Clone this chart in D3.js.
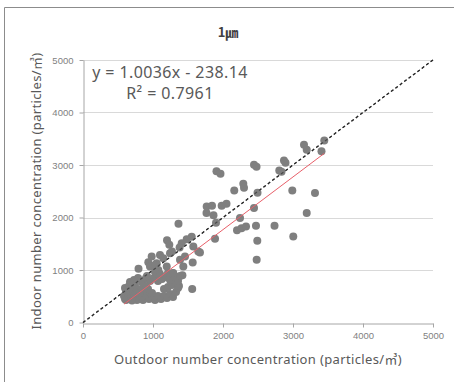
<!DOCTYPE html>
<html>
<head>
<meta charset="utf-8">
<script src="https://cdn.jsdelivr.net/npm/d3@7"></script>
<style>
  html, body { margin: 0; padding: 0; background: #fff; }
  svg { display: block; }
</style>
</head>
<body>
<svg id="chart" width="454" height="382"></svg>
<script>
// Outdoor vs indoor particle number concentration, 1 µm size class
const titleText = "1\u339B";
const xTitle = "Outdoor number concentration (particles/\u33A5)";
const yTitle = "Indoor number concentration (particles/\u33A5)";
const tickValues = [0, 1000, 2000, 3000, 4000, 5000];

// Regression line reported on the chart: y = slope * x + intercept
const slope = 1.0036;
const intercept = -238.14;
const rSquared = 0.7961;

const outdoor = [
  3157, 3196, 3447, 3407, 2871, 2893, 2804, 2836, 2990, 3314,
  3196, 2736, 3004, 2443, 2479, 1907, 1964, 2290, 2300, 2161,
  2493, 1767, 1843, 1981, 2050, 1764, 1864, 2443, 1900, 2243,
  2200, 2264, 2329, 2471, 1886, 2490, 2481, 1364, 1553, 1481,
  1200, 1671, 1410, 1576, 1233, 1380, 981, 1100, 1147, 1243,
  1271, 1386, 1457, 1647, 1567, 793, 933, 957, 1053, 1029,
  1076, 1196, 1290, 1433, 1560, 1420,
  // dense low-concentration group
  600, 586, 614, 643, 686, 729, 771, 814, 857, 900,
  943, 986, 1029, 1071, 1114, 1157, 1200, 1243, 1286, 1329,
  1357, 614, 600, 657, 714, 771, 829, 886, 929, 1157,
  1214, 1271, 1329, 1371, 671, 729, 786, 843, 900, 957,
  1014, 1071, 1129, 1186, 1243, 1300, 1357, 1386, 914, 1029,
  1100, 1214, 1286, 814, 986, 900, 743, 700
];

const indoor = [
  3387, 3292, 3469, 3260, 3088, 3044, 2897, 2872, 2515, 2466,
  2084, 1842, 1637, 3006, 2968, 2882, 2834, 2643, 2567, 2515,
  2471, 2210, 2223, 2223, 2261, 2084, 2042, 2179, 1899, 1989,
  1756, 1794, 1828, 1842, 1594, 1555, 1193, 1880, 1632, 1584,
  1565, 1332, 1511, 1447, 1479, 1430, 1256, 1288, 1225, 1321,
  1351, 1193, 1256, 1351, 1141, 1025, 1149, 1065, 1130, 1097,
  1002, 1065, 939, 1065, 640, 900,
  // dense low-concentration group
  448, 506, 429, 563, 468, 525, 429, 487, 429, 506,
  448, 487, 429, 506, 448, 506, 468, 544, 487, 582,
  658, 582, 658, 697, 639, 601, 639, 601, 639, 639,
  677, 716, 754, 697, 773, 811, 849, 773, 849, 792,
  849, 792, 830, 868, 811, 868, 792, 887, 887, 964,
  926, 945, 945, 563, 563, 697, 716, 420
];

const points = outdoor.map((x, i) => ({ x, y: indoor[i] }));

const svg = d3.select("#chart");
const margin = { left: 83, right: 21, top: 60, bottom: 60 };
const W = 454, H = 382;

const x = d3.scaleLinear().domain([0, 5000]).range([margin.left, W - margin.right]);
const y = d3.scaleLinear().domain([0, 5000]).range([H - margin.bottom + 0.5, margin.top]);

// outer frame (left and top edges)
svg.append("path")
  .attr("d", `M4.5,${H} V7.5 H${W}`)
  .attr("fill", "none").attr("stroke", "#8c8c8c").attr("stroke-width", 1);

// title
svg.append("text")
  .attr("x", 228).attr("y", 37)
  .attr("text-anchor", "middle")
  .attr("font-family", "'Noto Sans CJK KR', 'Noto Sans', sans-serif")
  .attr("font-weight", "bold").attr("font-size", 13)
  .attr("fill", "#404040")
  .text(titleText);

// horizontal gridlines
svg.append("g")
  .selectAll("line")
  .data(tickValues.filter(d => d > 0))
  .join("line")
  .attr("x1", x(0)).attr("x2", x(5000))
  .attr("y1", d => Math.round(y(d)) + 0.5).attr("y2", d => Math.round(y(d)) + 0.5)
  .attr("stroke", "#d9d9d9").attr("stroke-width", 1);

// axes
const tickFont = "'Liberation Sans', Arial, sans-serif";
const fmt = d3.format("d");
const xAxis = svg.append("g")
  .attr("transform", `translate(0,${Math.round(y(0)) + 0.5})`)
  .call(d3.axisBottom(x).tickValues(tickValues).tickFormat(fmt).tickSize(4).tickSizeOuter(0).tickPadding(5));
const yAxis = svg.append("g")
  .attr("transform", `translate(${x(0) + 0.5},0)`)
  .call(d3.axisLeft(y).tickValues(tickValues).tickFormat(fmt).tickSize(4).tickSizeOuter(0).tickPadding(6));

[xAxis, yAxis].forEach(g => {
  g.select(".domain").attr("stroke", "#a6a6a6");
  g.selectAll(".tick line").attr("stroke", "#a6a6a6");
  g.selectAll(".tick text")
    .attr("fill", "#7f7f7f")
    .attr("font-family", tickFont)
    .attr("font-size", 9.5);
});

// 1:1 reference line
svg.append("line")
  .attr("x1", x(0)).attr("y1", y(0))
  .attr("x2", x(5000)).attr("y2", y(5000))
  .attr("stroke", "#262626").attr("stroke-width", 1.2)
  .attr("stroke-dasharray", "3,2.5");

// scatter points
svg.append("g")
  .selectAll("circle")
  .data(points)
  .join("circle")
  .attr("cx", d => x(d.x)).attr("cy", d => y(d.y))
  .attr("r", 4)
  .attr("fill", "#7f7f7f");

// linear trendline over the range of outdoor values
const [xMin, xMax] = d3.extent(outdoor);
svg.append("line")
  .attr("x1", x(xMin)).attr("y1", y(slope * xMin + intercept))
  .attr("x2", x(xMax)).attr("y2", y(slope * xMax + intercept))
  .attr("stroke", "#e8606a").attr("stroke-width", 1);

// dashed 1:1 drawn again faintly so it shows across the markers
svg.append("line")
  .attr("x1", x(0)).attr("y1", y(0))
  .attr("x2", x(5000)).attr("y2", y(5000))
  .attr("stroke", "#262626").attr("stroke-width", 1.2).attr("stroke-opacity", 0.6)
  .attr("stroke-dasharray", "3,2.5");

// regression equation
const eqFont = "'Noto Sans', 'Open Sans', sans-serif";
svg.append("text")
  .attr("x", 170).attr("y", 78)
  .attr("text-anchor", "middle")
  .attr("font-family", eqFont).attr("font-size", 16).attr("letter-spacing", 0.4)
  .attr("fill", "#595959")
  .text(`y = ${slope}x - ${Math.abs(intercept)}`);
svg.append("text")
  .attr("x", 170).attr("y", 99)
  .attr("text-anchor", "middle")
  .attr("font-family", eqFont).attr("font-size", 16).attr("letter-spacing", 0.4)
  .attr("fill", "#595959")
  .text(`R\u00B2 = ${rSquared}`);

// axis titles
const titleFont = "'Noto Sans', 'Noto Sans CJK KR', sans-serif";
svg.append("text")
  .attr("x", 258).attr("y", 364)
  .attr("text-anchor", "middle")
  .attr("font-family", titleFont).attr("font-size", 13).attr("letter-spacing", 0.35)
  .attr("fill", "#595959")
  .text(xTitle);
svg.append("text")
  .attr("transform", `translate(41,191) rotate(-90)`)
  .attr("text-anchor", "middle")
  .attr("font-family", titleFont).attr("font-size", 13).attr("letter-spacing", 0.35)
  .attr("fill", "#595959")
  .text(yTitle);
</script>
</body>
</html>
